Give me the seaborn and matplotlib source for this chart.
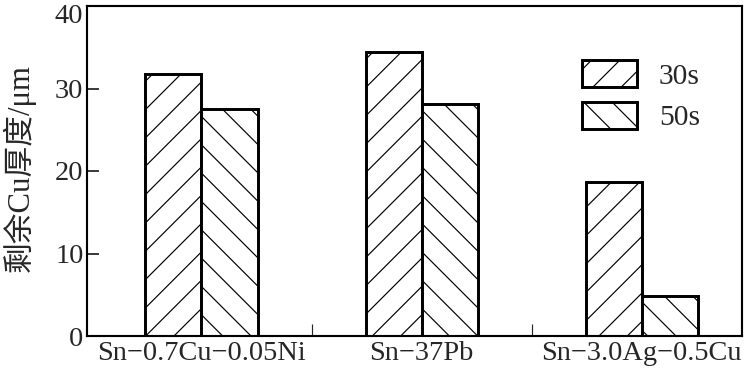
import pandas as pd
import matplotlib
matplotlib.use("Agg")
import matplotlib.pyplot as plt
import matplotlib.transforms as mtransforms
import seaborn as sns

# data
alloys = ["Sn\u22120.7Cu\u22120.05Ni", "Sn\u221237Pb", "Sn\u22123.0Ag\u22120.5Cu"]
times = ["30s", "50s"]
thick_30s = [31.8, 34.4, 18.7]
thick_50s = [27.5, 28.1, 4.8]
yticks = [0, 10, 20, 30, 40]

# dpi 85 so the hatch spacing comes out close to the reference
DPI = 85
W, H = 748, 382

sns.set_theme(style="ticks")
plt.rcParams['font.family'] = ['Liberation Serif', 'Noto Sans CJK SC']
plt.rcParams['hatch.linewidth'] = 1.0

df = pd.DataFrame({
    "alloy": alloys * 2,
    "time": [times[0]] * 3 + [times[1]] * 3,
    "thickness": thick_30s + thick_50s,
})

fig, ax = plt.subplots(figsize=(W / DPI, H / DPI), dpi=DPI)
fig.subplots_adjust(left=87/W, right=742/W, top=1-6/H, bottom=1-336/H)

sns.barplot(data=df, x="alloy", y="thickness", hue="time", hue_order=times,
            palette=["white", "white"], edgecolor="black", linewidth=2.5,
            width=0.51, gap=0, errorbar=None, ax=ax)

hatches = ["/", "\\"]
for cont, h in zip(ax.containers, hatches):
    for p in cont.patches:
        p.set_hatch(h)
        p.set_edgecolor("black")
        p.set_facecolor("white")

if ax.get_legend() is not None:
    ax.get_legend().remove()
ax.legend(ax.containers, times, loc="upper left", bbox_to_anchor=(0.756, 0.835),
          frameon=False, fontsize=25, borderpad=0, borderaxespad=0,
          handlelength=1.85, handleheight=1.0, labelspacing=0.42,
          handletextpad=0.75)

ax.set_xlim(-0.52, 2.455)
ax.set_ylim(0, 40)
ax.set_yticks(yticks)
ax.set_xticks(range(len(alloys)))
ax.set_xticklabels(alloys, fontsize=24)
ax.set_xticks([0.5, 1.5], minor=True)
ax.tick_params(axis="x", which="major", length=0, pad=4)
ax.tick_params(axis="x", which="minor", direction="in", length=10, width=1, bottom=True)
ax.tick_params(axis="y", direction="in", length=10, width=1.5, labelsize=24, pad=3)
for s in ax.spines.values():
    s.set_color("black")
    s.set_linewidth(1.8)

# the top label sits a little lower in the reference, keep it inside the image
top_lab = ax.get_yticklabels()[-1]
top_lab.set_transform(top_lab.get_transform() +
                      mtransforms.ScaledTranslation(0, -6 / 72, fig.dpi_scale_trans))

ax.set_xlabel("")
ax.set_ylabel("剩余Cu厚度/μm", fontsize=26)
ax.yaxis.set_label_coords(-0.078, 0.51)

plt.savefig("out.png", dpi=DPI)
